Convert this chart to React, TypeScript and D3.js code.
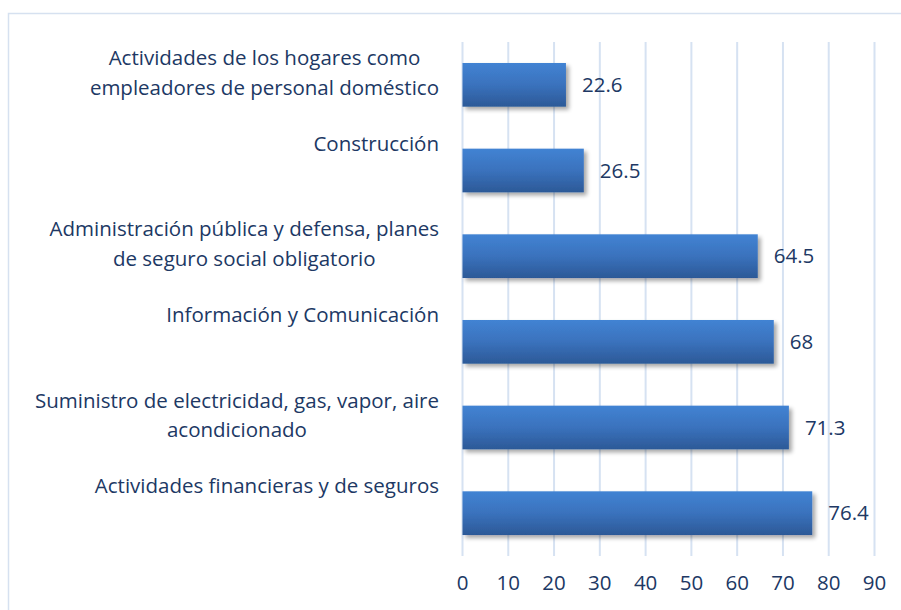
import React from "react";
import * as d3 from "d3";

const categories: string[][] = [
  ["Actividades de los hogares como", "empleadores de personal doméstico"],
  ["Construcción"],
  ["Administración pública y defensa, planes", "de seguro social obligatorio"],
  ["Información y Comunicación"],
  ["Suministro de electricidad, gas, vapor, aire", "acondicionado"],
  ["Actividades financieras y de seguros"],
];
const values: number[] = [22.6, 26.5, 64.5, 68, 71.3, 76.4];
const valueLabels: string[] = ["22.6", "26.5", "64.5", "68", "71.3", "76.4"];
const ticks: number[] = [0, 10, 20, 30, 40, 50, 60, 70, 80, 90];

const W = 901;
const H = 610;
const left = 462.5;
const right = 874.5;
const top = 42;
const bottom = 556;
const textColor = "#203864";
const fontFamily = "'Open Sans'";
const fontSize = 20.5;
const labelRight = 439;

let ctx: CanvasRenderingContext2D | null = null;
function measure(s: string): number {
  if (!ctx && typeof document !== "undefined") {
    ctx = document.createElement("canvas").getContext("2d");
  }
  if (!ctx) return s.length * fontSize * 0.5;
  ctx.font = `${fontSize}px ${fontFamily}`;
  return ctx.measureText(s).width;
}

export default function App() {
  const x = d3.scaleLinear().domain([0, 90]).range([left, right]);
  const y = d3
    .scaleBand<number>()
    .domain(d3.range(values.length))
    .range([top, bottom])
    .paddingInner(0.49)
    .paddingOuter(0.245);
  const bw = y.bandwidth();
  return (
    <svg
      width={W}
      height={H}
      style={{ position: "absolute", left: 0, top: 0, background: "#fff" }}
      fontFamily={fontFamily}
    >
      <defs>
        <linearGradient id="barGrad" x1="0" y1="0" x2="0" y2="1">
          <stop offset="0" stopColor="#4283d3" />
          <stop offset="0.5" stopColor="#3a72bd" />
          <stop offset="1" stopColor="#2c5997" />
        </linearGradient>
        <filter id="shadow" x="-5%" y="-20%" width="115%" height="160%">
          <feGaussianBlur in="SourceAlpha" stdDeviation="2.2" />
          <feOffset dx="2.5" dy="3" result="b" />
          <feComponentTransfer>
            <feFuncA type="linear" slope="0.35" />
          </feComponentTransfer>
          <feMerge>
            <feMergeNode />
            <feMergeNode in="SourceGraphic" />
          </feMerge>
        </filter>
      </defs>
      <path d={`M8.5,${H} V13.5 H${W}`} fill="none" stroke="#d6e1f0" strokeWidth={1.5} />
      {ticks.map((t) => (
        <line key={t} x1={x(t)} x2={x(t)} y1={top} y2={bottom} stroke="#d6e2f2" strokeWidth={2} />
      ))}
      {values.map((v, i) => (
        <rect
          key={i}
          x={x(0)}
          y={y(i)!}
          width={x(v) - x(0)}
          height={bw}
          fill="url(#barGrad)"
          filter="url(#shadow)"
        />
      ))}
      {values.map((v, i) => (
        <text
          key={i}
          x={x(v) + 16}
          y={y(i)! + bw / 2}
          dy="0.35em"
          fontSize={fontSize}
          fill={textColor}
        >
          {valueLabels[i]}
        </text>
      ))}
      {categories.map((lines, i) => {
        const maxW = Math.max(...lines.map(measure));
        const cx = labelRight - maxW / 2;
        return (
          <text key={i} textAnchor="middle" fontSize={fontSize} fill={textColor}>
            {lines.map((ln, j) => (
              <tspan key={j} x={cx} y={y(i)! + bw / 2 - 27 + j * 29.5} dy="0.35em">
                {ln}
              </tspan>
            ))}
          </text>
        );
      })}
      {ticks.map((t) => (
        <text key={t} x={x(t)} y={583} dy="0.35em" textAnchor="middle" fontSize={fontSize} fill={textColor}>
          {t}
        </text>
      ))}
    </svg>
  );
}
